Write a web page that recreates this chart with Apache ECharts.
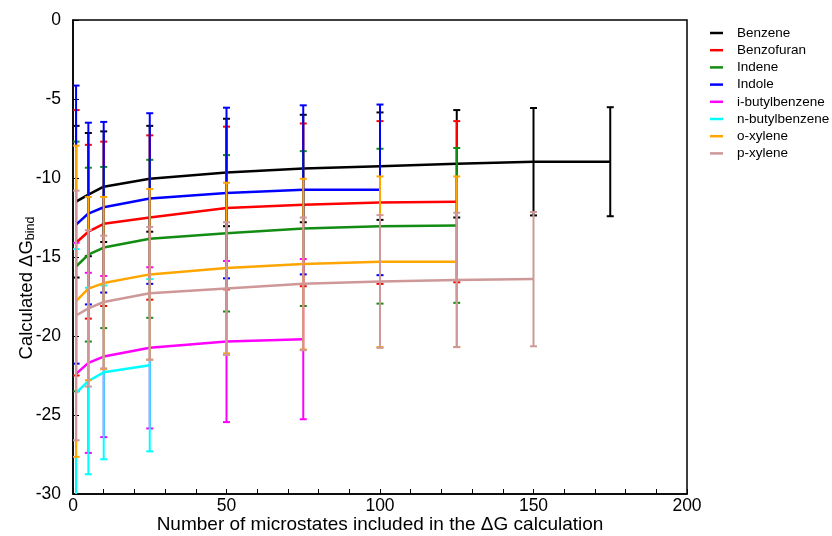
<!DOCTYPE html>
<html>
<head>
<meta charset="utf-8">
<script src="https://cdn.jsdelivr.net/npm/echarts@6/dist/echarts.min.js"></script>
<style>
html, body { margin: 0; padding: 0; background: #fff; }
#main { width: 832px; height: 536px; }
</style>
</head>
<body>
<div id="main"></div>
<script>
var xs = [1, 5, 10, 25, 50, 75, 100, 125, 150, 175];
var names = ['Benzene', 'Benzofuran', 'Indene', 'Indole', 'i-butylbenzene', 'n-butylbenzene', 'o-xylene', 'p-xylene'];
var colors = ['#000000', '#ff0000', '#128c12', '#0000ff', '#ff00ff', '#00ffff', '#ffa500', '#cf9898'];

var benzene = [-11.5, -11.05, -10.55, -10.05, -9.65, -9.4, -9.25, -9.1, -8.97, -8.97];
var benzeneErr = [4.8, 3.9, 3.5, 3.35, 3.4, 3.4, 3.4, 3.4, 3.4, 3.45];
var benzofuran = [-14.1, -13.4, -12.9, -12.5, -11.9, -11.7, -11.55, -11.5];
var benzofuranErr = [8.4, 5.5, 5.2, 5.2, 5.15, 5.15, 5.15, 5.1];
var indene = [-15.6, -14.85, -14.4, -13.85, -13.5, -13.2, -13.05, -13.0];
var indeneErr = [7.9, 5.5, 5.1, 5.0, 4.95, 4.9, 4.9, 4.9];
var indole = [-12.95, -12.25, -11.85, -11.3, -10.95, -10.75, -10.75];
var indoleErr = [8.8, 5.75, 5.4, 5.4, 5.4, 5.35, 5.4];
var ibutyl = [-22.4, -21.7, -21.3, -20.75, -20.35, -20.2];
var ibutylErr = [8.3, 5.7, 5.1, 5.1, 5.1, 5.07];
var nbutyl = [-23.6, -22.85, -22.3, -21.85];
var nbutylErr = [9.1, 5.9, 5.5, 5.45];
var oxylene = [-17.8, -17.0, -16.65, -16.1, -15.7, -15.45, -15.3, -15.3];
var oxyleneErr = [9.85, 5.8, 5.45, 5.4, 5.4, 5.4, 5.4, 5.4];
var pxylene = [-18.7, -18.25, -17.85, -17.3, -17.0, -16.7, -16.55, -16.45, -16.4];
var pxyleneErr = [7.9, 4.95, 4.2, 4.2, 4.2, 4.2, 4.2, 4.25, 4.25];

var means = [benzene, benzofuran, indene, indole, ibutyl, nbutyl, oxylene, pxylene];
var errs = [benzeneErr, benzofuranErr, indeneErr, indoleErr, ibutylErr, nbutylErr, oxyleneErr, pxyleneErr];

function errorBar(params, api) {
    var x = api.value(0);
    var lo = api.coord([x, api.value(1)]);
    var hi = api.coord([x, api.value(2)]);
    var w = 3.5;
    var style = { stroke: api.visual('color'), lineWidth: 2 };
    return {
        type: 'group',
        children: [
            { type: 'line', shape: { x1: lo[0], y1: lo[1], x2: hi[0], y2: hi[1] }, style: style },
            { type: 'line', shape: { x1: lo[0] - w, y1: lo[1], x2: lo[0] + w, y2: lo[1] }, style: style },
            { type: 'line', shape: { x1: hi[0] - w, y1: hi[1], x2: hi[0] + w, y2: hi[1] }, style: style }
        ]
    };
}

var series = [];
for (var i = 0; i < names.length; i++) {
    var line = [], bars = [];
    for (var j = 0; j < means[i].length; j++) {
        line.push([xs[j], means[i][j]]);
        bars.push([xs[j], means[i][j] - errs[i][j], means[i][j] + errs[i][j]]);
    }
    series.push({
        name: names[i],
        type: 'line',
        data: line,
        showSymbol: false,
        symbol: 'none',
        color: colors[i],
        lineStyle: { width: 2.5, color: colors[i] },
        z: 2 + i * 0.01
    });
    series.push({
        name: names[i],
        type: 'custom',
        data: bars,
        renderItem: errorBar,
        color: colors[i],
        clip: true,
        encode: { x: 0, y: [1, 2] },
        z: 2 + i * 0.01
    });
}

var font = 'Liberation Sans, Arial, sans-serif';
var myChart = echarts.init(document.getElementById('main'));
myChart.setOption({
    backgroundColor: '#fff',
    animation: false,
    textStyle: { fontFamily: font },
    grid: {
        left: 73, right: 145, top: 20, bottom: 42,
        outerBoundsMode: 'none',
        show: true, borderColor: '#000', borderWidth: 1.5
    },
    legend: {
        data: names,
        orient: 'vertical',
        left: 705, top: 21,
        icon: 'rect',
        itemWidth: 13, itemHeight: 2.5,
        itemGap: 3.2,
        textStyle: { fontSize: 13.5, color: '#000', lineHeight: 14, padding: [0, 0, 0, 9] }
    },
    xAxis: {
        type: 'value',
        min: 0, max: 200, interval: 10,
        name: 'Number of microstates included in the \u0394G calculation',
        nameLocation: 'middle',
        nameMoveOverlap: false,
        nameGap: 21,
        nameTextStyle: { fontSize: 19, color: '#000' },
        axisLine: { onZero: false, lineStyle: { color: '#000', width: 1.5 } },
        axisTick: { inside: true, length: 5, lineStyle: { color: '#000' } },
        axisLabel: {
            fontSize: 17.5, color: '#000', margin: 3,
            formatter: function (v) { return v % 50 === 0 ? String(v) : ''; }
        },
        splitLine: { show: false }
    },
    yAxis: {
        type: 'value',
        min: -30, max: 0, interval: 5,
        name: '{a|Calculated \u0394G}{b|bind}',
        nameLocation: 'middle',
        nameMoveOverlap: false,
        nameGap: 36,
        nameRotate: 90,
        nameTextStyle: {
            color: '#000',
            padding: [0, 62, 0, 0],
            rich: {
                a: { fontSize: 18.5, color: '#000', fontFamily: font },
                b: { fontSize: 12.5, color: '#000', verticalAlign: 'bottom', padding: [7, 0, 0, 0], fontFamily: font }
            }
        },
        axisLine: { onZero: false, lineStyle: { color: '#000', width: 1.5 } },
        axisTick: { inside: true, length: 6, lineStyle: { color: '#000' } },
        axisLabel: { fontSize: 17.5, color: '#000', margin: 12 },
        splitLine: { show: false }
    },
    series: series
});
</script>
</body>
</html>
